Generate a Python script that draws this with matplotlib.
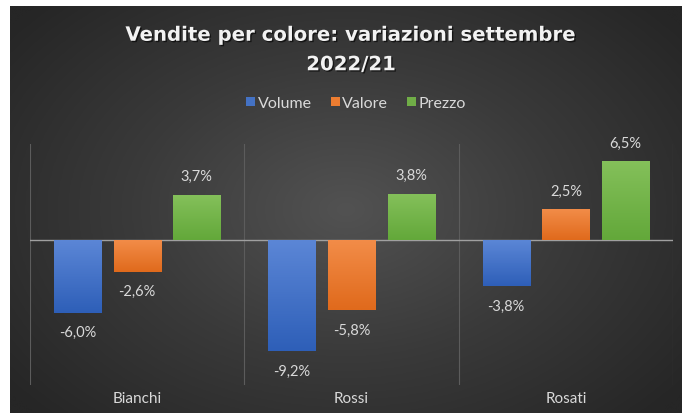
#!/usr/bin/env python3
# -*- coding: utf-8 -*-

"""Vendite per colore: variazioni settembre 2022/21 (bar chart on dark background)"""

import numpy as np
import matplotlib
matplotlib.use('Agg')
import matplotlib.pyplot as plt
import matplotlib.patheffects as pe
from matplotlib.colors import LinearSegmentedColormap

# Data
categories = ['Bianchi', 'Rossi', 'Rosati']
series = ['Volume', 'Valore', 'Prezzo']
volume = [-6.0, -9.2, -3.8]
valore = [-2.6, -5.8, 2.5]
prezzo = [3.7, 3.8, 6.5]

# Style
txt_col = '#d9d9d9'
grads = {
    'Volume': ('#5b86d6', '#2e5fb8'),
    'Valore': ('#f28c48', '#e06a1c'),
    'Prezzo': ('#84c05a', '#63a83a'),
}
solid = {'Volume': '#4472c4', 'Valore': '#ed7d31', 'Prezzo': '#70ad47'}
plt.rcParams['font.family'] = ['Lato', 'DejaVu Sans']

fig = plt.figure(figsize=(6.82, 4.14), dpi=100)
fig.patch.set_facecolor('white')

# Dark radial gradient background (chart area)
bg = fig.add_axes([10 / 682, 0, 672 / 682, 1 - 7 / 414])
bg.set_axis_off()
yy, xx = np.mgrid[0:1:300j, 0:1:500j]
rr = np.sqrt(((xx - 0.5) / 0.75) ** 2 + ((yy - 0.5) / 0.85) ** 2)
bg_cmap = LinearSegmentedColormap.from_list('bg', ['#525252', '#3a3a3a', '#262626'])
bg.imshow(rr, cmap=bg_cmap, vmin=0, vmax=0.85, aspect='auto',
          extent=[0, 1, 0, 1], interpolation='bicubic')
bg.set_xlim(0, 1)
bg.set_ylim(0, 1)

# Main axes
ax = fig.add_axes([30 / 682, 1 - 386 / 414, 643 / 682, 241 / 414])
ax.patch.set_alpha(0)
ind = np.arange(len(categories))
width = 0.22
offset = 0.278
values = {'Volume': volume, 'Valore': valore, 'Prezzo': prezzo}

ax.set_xlim(-0.5, len(categories) - 0.5)
ax.set_ylim(-12, 8)

for i, name in enumerate(series):
    bars = ax.bar(ind + (i - 1) * offset, values[name], width,
                  color=solid[name], label=name, zorder=3,
                  linewidth=0)
    cmap = LinearSegmentedColormap.from_list(name, [grads[name][1], grads[name][0]])
    for b, v in zip(bars, values[name]):
        x0, y0 = b.get_x(), b.get_y()
        w, h = b.get_width(), b.get_height()
        ylo, yhi = min(y0, y0 + h), max(y0, y0 + h)
        grad = np.linspace(0, 1, 64).reshape(-1, 1)
        ax.imshow(grad, cmap=cmap, aspect='auto', origin='lower',
                  extent=[x0, x0 + w, ylo, yhi], zorder=4)
        # data label
        lab = ('%.1f%%' % v).replace('.', ',')
        ax.annotate(lab, (x0 + w / 2, y0 + h), xytext=(0, 14 if v > 0 else -14),
                    textcoords='offset points', ha='center', va='center',
                    color=txt_col, fontsize=10.5)

ax.set_xlim(-0.5, len(categories) - 0.5)
ax.set_ylim(-12, 8)

# zero line and category separators
ax.axhline(0, color='#a0a0a0', linewidth=1.0, zorder=2)
for xs in np.arange(-0.5, len(categories), 1.0):
    ax.axvline(xs, color='#5c5c5c', linewidth=0.8, zorder=1)

ax.set_yticks([])
ax.set_xticks(ind)
ax.set_xticklabels(categories, color=txt_col, fontsize=11)
ax.tick_params(axis='x', length=0, pad=4)
for s in ax.spines.values():
    s.set_visible(False)

# Title
fig.text(0.515, 1 - 51 / 414, 'Vendite per colore: variazioni settembre\n2022/21',
         ha='center', va='center', color='#f2f2f2', fontsize=14.2, fontweight='bold',
         family='DejaVu Sans', linespacing=1.7,
         path_effects=[pe.withSimplePatchShadow(offset=(1, -1), shadow_rgbFace='black', alpha=0.6)])

# Legend
leg = fig.legend(loc='center', bbox_to_anchor=(0.522, 1 - 104 / 414), ncol=3,
                 frameon=False, fontsize=11.5, handlelength=0.55, handleheight=0.55,
                 handletextpad=0.15, columnspacing=1.2, labelcolor=txt_col)

fig.savefig('out.png', dpi=100, facecolor=fig.get_facecolor())
